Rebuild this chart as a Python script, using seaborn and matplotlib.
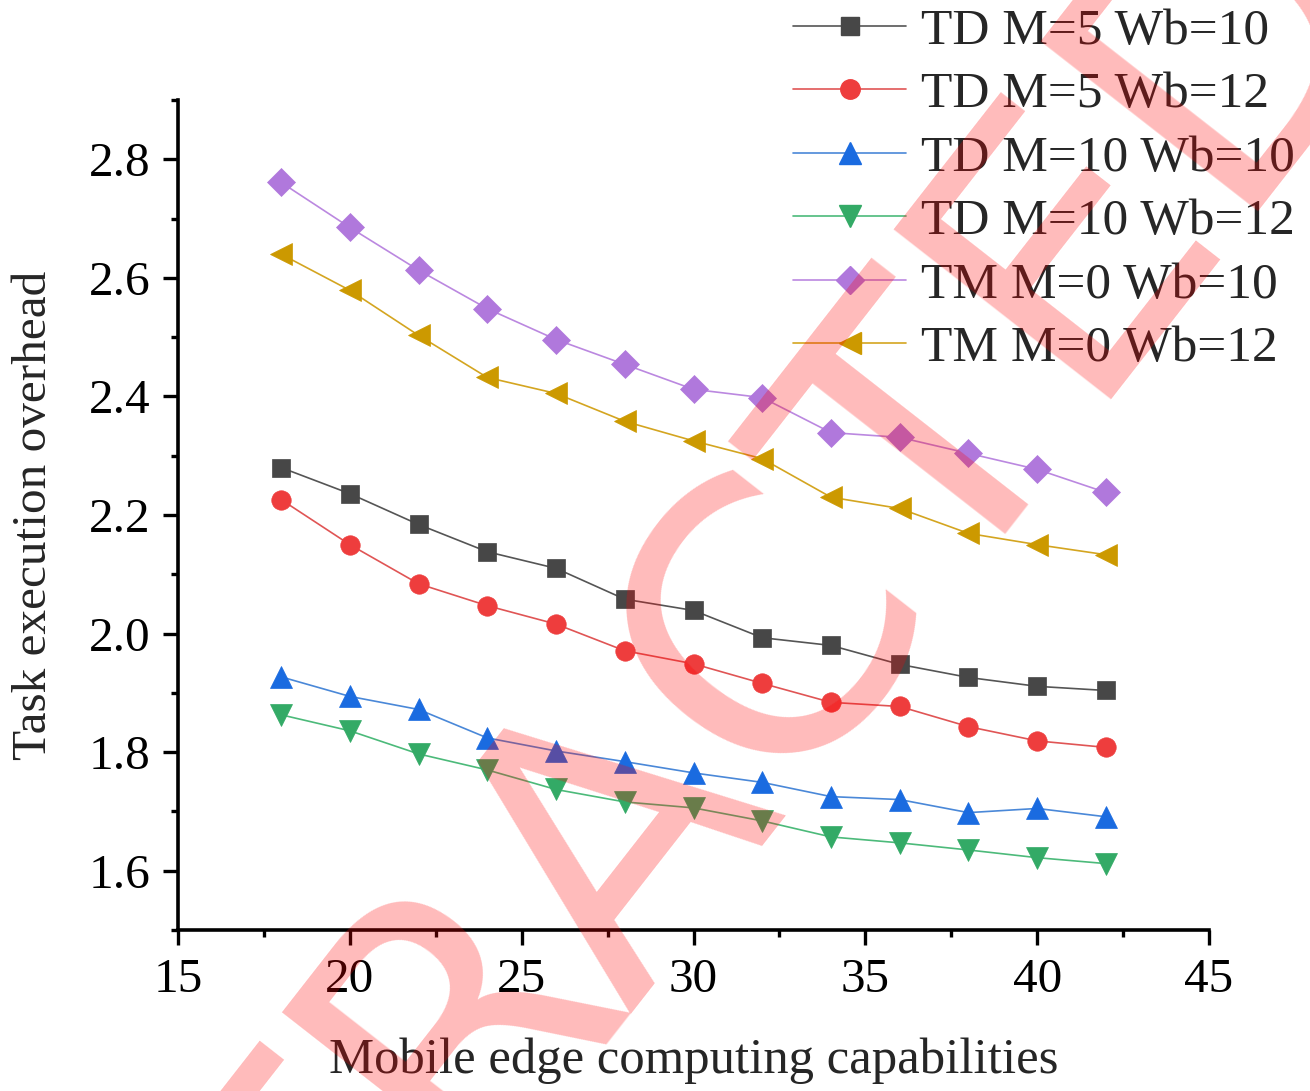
import matplotlib
matplotlib.use("Agg")
import matplotlib.pyplot as plt
import seaborn as sns
import numpy as np
import pandas as pd
from matplotlib.ticker import MultipleLocator
from matplotlib.lines import Line2D

# ---- data ----
x_vals = [18, 20, 22, 24, 26, 28, 30, 32, 34, 36, 38, 40, 42]
td_m5_wb10 = [2.280, 2.236, 2.184, 2.138, 2.110, 2.058, 2.039, 1.993, 1.980, 1.948, 1.926, 1.911, 1.904]
td_m5_wb12 = [2.226, 2.150, 2.084, 2.047, 2.016, 1.971, 1.949, 1.916, 1.884, 1.877, 1.843, 1.819, 1.808]
td_m10_wb10 = [1.927, 1.894, 1.872, 1.824, 1.802, 1.784, 1.765, 1.749, 1.725, 1.720, 1.698, 1.705, 1.691]
td_m10_wb12 = [1.863, 1.836, 1.797, 1.770, 1.737, 1.716, 1.706, 1.684, 1.657, 1.647, 1.635, 1.622, 1.612]
tm_m0_wb10 = [2.761, 2.685, 2.613, 2.548, 2.496, 2.454, 2.412, 2.398, 2.339, 2.331, 2.304, 2.277, 2.238]
tm_m0_wb12 = [2.640, 2.579, 2.503, 2.432, 2.405, 2.358, 2.325, 2.295, 2.230, 2.211, 2.169, 2.150, 2.133]

labels = ["TD M=5 Wb=10", "TD M=5 Wb=12", "TD M=10 Wb=10",
          "TD M=10 Wb=12", "TM M=0 Wb=10", "TM M=0 Wb=12"]
series = [td_m5_wb10, td_m5_wb12, td_m10_wb10, td_m10_wb12, tm_m0_wb10, tm_m0_wb12]
markers = ["s", "o", "^", "v", "D", "<"]
marker_colors = ["#474747", "#ee3d3d", "#1a6be0", "#33aa66", "#b078dc", "#cc9900"]
line_colors = ["#555555", "#e05555", "#4a88d8", "#4cba7a", "#bb88e0", "#d4a520"]
marker_sizes = [13, 14, 16, 16, 14, 16]

sns.set_theme(style="ticks")
plt.rcParams["font.family"] = ["Liberation Serif", "DejaVu Serif"]
plt.rcParams["mathtext.fontset"] = "stix"

fig = plt.figure(figsize=(13.10, 10.91), dpi=100)
ax = fig.add_axes([178 / 1310, 1 - 930 / 1091, (1209 - 178) / 1310, (930 - 100) / 1091])

handles = []
for lab, ys, mk, mc, lc, ms in zip(labels, series, markers, marker_colors, line_colors, marker_sizes):
    df = pd.DataFrame({"x": x_vals, "y": ys})
    sns.lineplot(data=df, x="x", y="y", ax=ax, color=lc, linewidth=1.2,
                 marker=mk, markersize=ms, markerfacecolor=mc, markeredgecolor=mc,
                 markeredgewidth=0.5, legend=False)
    handles.append(Line2D([], [], color=lc, linewidth=1.2, marker=mk, markersize=ms,
                          markerfacecolor=mc, markeredgecolor=mc, label=lab))

ax.set_xlim(15, 45)
ax.set_ylim(1.5, 2.9)
ax.xaxis.set_major_locator(MultipleLocator(5))
ax.xaxis.set_minor_locator(MultipleLocator(2.5))
ax.yaxis.set_major_locator(MultipleLocator(0.2))
ax.yaxis.set_minor_locator(MultipleLocator(0.1))
ax.yaxis.set_major_formatter(matplotlib.ticker.FormatStrFormatter("%.1f"))

for s in ["top", "right"]:
    ax.spines[s].set_visible(False)
for s in ["left", "bottom"]:
    ax.spines[s].set_linewidth(2.6)
    ax.spines[s].set_color("black")

ax.tick_params(axis="both", which="major", direction="out", length=11, width=2.4,
               labelsize=35.5, pad=9, colors="black")
ax.tick_params(axis="both", which="minor", direction="out", length=5, width=2.4, colors="black")

ax.set_xlabel("Mobile edge computing capabilities", fontsize=36.5, labelpad=26)
ax.set_ylabel("Task execution overhead", fontsize=35.5, labelpad=23)

leg = fig.legend(handles=handles, loc="upper left",
                 bbox_to_anchor=(793 / 1310, 1 - 8 / 1091),
                 frameon=False, fontsize=37, handlelength=2.2, handletextpad=0.3,
                 labelspacing=0.32, borderpad=0, borderaxespad=0)

# retraction watermark overlay
fig.text(625 / 1310, 1 - 805 / 1091, "RETRACTED", rotation=52, rotation_mode="anchor",
         ha="center", va="center", fontsize=272, color="red", alpha=0.27,
         family="DejaVu Sans", zorder=100)

fig.savefig("out.png", dpi=100)
